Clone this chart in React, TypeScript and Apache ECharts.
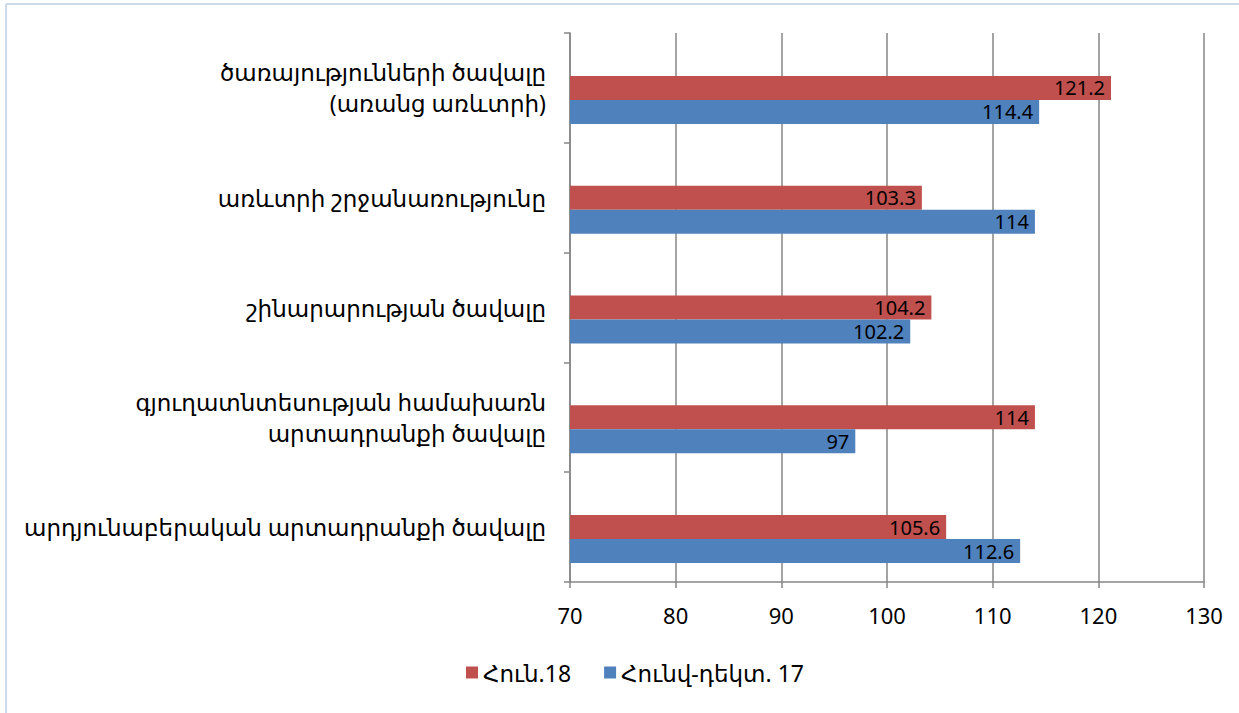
import React, { useEffect, useRef } from "react";
import * as echarts from "echarts";

const categories = [
  "արդյունաբերական արտադրանքի ծավալը",
  "գյուղատնտեսության համախառն\nարտադրանքի ծավալը",
  "շինարարության ծավալը",
  "առևտրի շրջանառությունը",
  "ծառայությունների ծավալը\n(առանց առևտրի)",
];
const seriesNames = ["Հուն.18", "Հունվ-դեկտ. 17"];
const jan18 = [105.6, 114, 104.2, 103.3, 121.2];
const janDec17 = [112.6, 97, 102.2, 114, 114.4];
const spacer = [null, null, null, null, null];
const xTicks = { min: 70, max: 130, interval: 10 };

const FONT = "'Noto Sans', 'DejaVu Sans', sans-serif";

export default function App() {
  const ref = useRef<HTMLDivElement>(null);
  useEffect(() => {
    if (!ref.current) return;
    const chart = echarts.init(ref.current, null, { renderer: "svg" });
    const label = {
      show: true,
      position: "insideRight",
      color: "#000",
      fontSize: 20,
      lineHeight: 20,
      distance: 6,
      fontFamily: FONT,
    };
    chart.setOption({
      animation: false,
      backgroundColor: "#fff",
      textStyle: { fontFamily: FONT },
      grid: { left: 570, right: 35, top: 33, bottom: 131, containLabel: false },
      legend: {
        bottom: 24,
        left: 461,
        itemWidth: 12,
        itemHeight: 12,
        itemGap: 33,
        itemTextGap: 9,
        icon: "rect",
        textStyle: { fontSize: 23, color: "#000", fontFamily: FONT },
        data: seriesNames,
      },
      xAxis: {
        type: "value",
        min: xTicks.min,
        max: xTicks.max,
        interval: xTicks.interval,
        axisLine: { show: true, lineStyle: { color: "#868686", width: 1.5 } },
        axisTick: { show: true, inside: false, length: 6, lineStyle: { color: "#868686", width: 1.5 } },
        splitLine: { show: true, lineStyle: { color: "#868686", width: 1.5 } },
        axisLabel: { color: "#000", fontSize: 22, margin: 22, fontFamily: FONT },
      },
      yAxis: {
        type: "category",
        data: categories,
        axisLine: { show: true, lineStyle: { color: "#868686", width: 1.5 } },
        axisTick: { show: true, length: 6, lineStyle: { color: "#868686", width: 1.5 } },
        axisLabel: {
          color: "#000",
          fontSize: 23,
          margin: 24,
          lineHeight: 31,
          align: "right",
          fontFamily: FONT,
        },
      },
      series: [
        {
          name: "spacer",
          type: "bar",
          data: spacer,
          barWidth: 24,
          barGap: "0%",
          silent: true,
        },
        {
          name: seriesNames[0],
          type: "bar",
          data: jan18,
          barWidth: 24,
          barGap: "0%",
          itemStyle: { color: "#C0504D" },
          label,
        },
        {
          name: seriesNames[1],
          type: "bar",
          data: janDec17,
          barWidth: 24,
          barGap: "0%",
          itemStyle: { color: "#4F81BD" },
          label,
        },
      ],
      graphic: [
        { type: "line", shape: { x1: 6, y1: 4, x2: 6, y2: 713 }, style: { stroke: "#CDD9EC", lineWidth: 2 } },
        { type: "line", shape: { x1: 6, y1: 4, x2: 1239, y2: 4 }, style: { stroke: "#CDD9EC", lineWidth: 2 } },
      ],
    });
    return () => chart.dispose();
  }, []);
  return (
    <div
      ref={ref}
      style={{ position: "fixed", left: 0, top: 0, width: 1239, height: 713 }}
    />
  );
}
